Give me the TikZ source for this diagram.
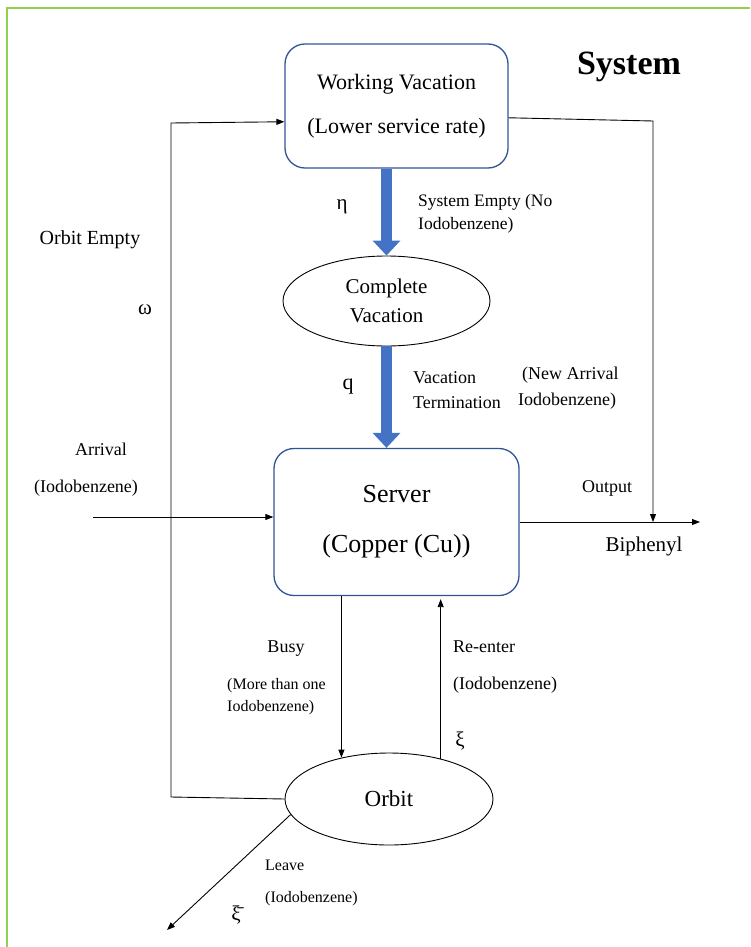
\documentclass[tikz,border=0pt]{standalone}
\usepackage{fontspec}
\setmainfont{Liberation Serif}
\usetikzlibrary{arrows.meta,shapes.geometric}
\definecolor{frameGreen}{RGB}{146,208,80}
\definecolor{boxBlue}{RGB}{47,85,151}
\definecolor{arrowBlue}{RGB}{68,114,196}
\newcommand{\fsz}[2]{\fontsize{#1}{#2}\selectfont}
\begin{document}
\begin{tikzpicture}[x=1pt,y=-1pt,
  thinline/.style={line width=0.9pt, black},
  tipped/.style={thinline, -{Triangle[length=8pt,width=6pt]}},
  bigarrow/.style={arrowBlue, line width=11pt, -{Triangle[length=15pt,width=27pt]}},
  rbox/.style={draw=boxBlue, line width=1.3pt, rounded corners=20pt, align=center, inner sep=0pt},
  ell/.style={draw, ellipse, line width=0.9pt, align=center, inner sep=0pt},
  lbl/.style={inner sep=0pt, font=\fsz{18}{21}},
  sml/.style={inner sep=0pt, font=\fsz{16}{19}},
  greek/.style={inner sep=0pt, font=\fsz{21}{24}}]
\useasboundingbox (0,0) rectangle (750,947);
% frame
\coordinate (frA) at (750,8);
\coordinate (frB) at (7,8);
\coordinate (frC) at (7,947);
\draw[frameGreen, line width=1.5pt] (frA) -- (frB) -- (frC);

% main nodes
\node[rbox, minimum width=223pt, minimum height=124pt, font=\fsz{22}{44}] (wv) at (396.5,106) {Working Vacation\\(Lower service rate)};
\node[ell, minimum width=207pt, minimum height=90pt, font=\fsz{21}{29}] (cv) at (386.5,301) {Complete\\Vacation};
\node[rbox, minimum width=245pt, minimum height=147pt, font=\fsz{26}{50}] (server) at (396.5,522) {Server\\(Copper (Cu))};
\node[ell, minimum width=208pt, minimum height=92pt, font=\fsz{23}{27}] (orbit) at (389,799) {Orbit};

% coordinates
\coordinate (cornerTL) at (171,123);
\coordinate (cornerBL) at (171,797);
\coordinate (cornerTR) at (653,121);
\coordinate (arrStart) at (93,517);
\coordinate (outEnd) at (700,522);
\coordinate (leaveEnd) at (167,930);

% connectors
\draw[bigarrow] (cv.north |- wv.south) -- (cv.north);
\draw[bigarrow] (cv.south) -- (cv.south |- server.north);
\draw[tipped] (orbit.west) -- (cornerBL) -- (cornerTL) -- (wv.188);
\draw[tipped] (wv.-6) -- (cornerTR) -- (cornerTR |- outEnd);
\draw[tipped] (arrStart) -- (server.west |- arrStart);
\draw[tipped] (server.east) -- (outEnd);
\draw[tipped] (orbit.139 |- server.south) -- (orbit.139);
\draw[tipped] (orbit.38) -- ([yshift=-3pt]orbit.38 |- server.south);
\draw[tipped] (orbit.189) -- (leaveEnd);

% labels
\node[inner sep=0pt, font=\fsz{34}{40}\bfseries] (sys) at (629,67) {System};
\node[inner sep=0pt, font=\fsz{20}{24}] (orbEmpty) at (90,240) {Orbit Empty};
\node[greek] (omega) at (145,310) {ω};
\node[greek] (eta) at (342,207) {η};
\node[inner sep=0pt, font=\fsz{17.5}{21}, anchor=west] (se1) at (418,202) {System Empty (No};
\node[inner sep=0pt, font=\fsz{17.5}{21}, anchor=west] (se2) at (418,225) {Iodobenzene)};
\node[inner sep=0pt, font=\fsz{22}{26}] (qlab) at (348,387) {q};
\node[lbl, anchor=west] (vt1) at (413,378) {Vacation};
\node[lbl, anchor=west] (vt2) at (413,403) {Termination};
\node[lbl, anchor=west] (na1) at (522,375) {(New Arrival};
\node[lbl, anchor=west] (na2) at (518,401) {Iodobenzene)};
\node[lbl] (arr1) at (101,449) {Arrival};
\node[lbl] (arr2) at (86,488) {(Iodobenzene)};
\node[lbl] (outp) at (607,488) {Output};
\node[inner sep=0pt, font=\fsz{21}{25}] (biph) at (644,546) {Biphenyl};
\node[lbl] (busy) at (286,649) {Busy};
\node[sml, anchor=west] (busy2) at (227,686) {(More than one};
\node[sml, anchor=west] (busy3) at (227,708) {Iodobenzene)};
\node[lbl, anchor=west] (re1) at (453,647) {Re-enter};
\node[lbl, anchor=west] (re2) at (453,685) {(Iodobenzene)};
\node[greek] (xi) at (460,741) {ξ};
\node[sml, anchor=west] (lv1) at (265,865) {Leave};
\node[sml, anchor=west] (lv2) at (265,899) {(Iodobenzene)};
\node[greek] (xibar) at (236,915) {ξ̄};
\end{tikzpicture}
\end{document}
